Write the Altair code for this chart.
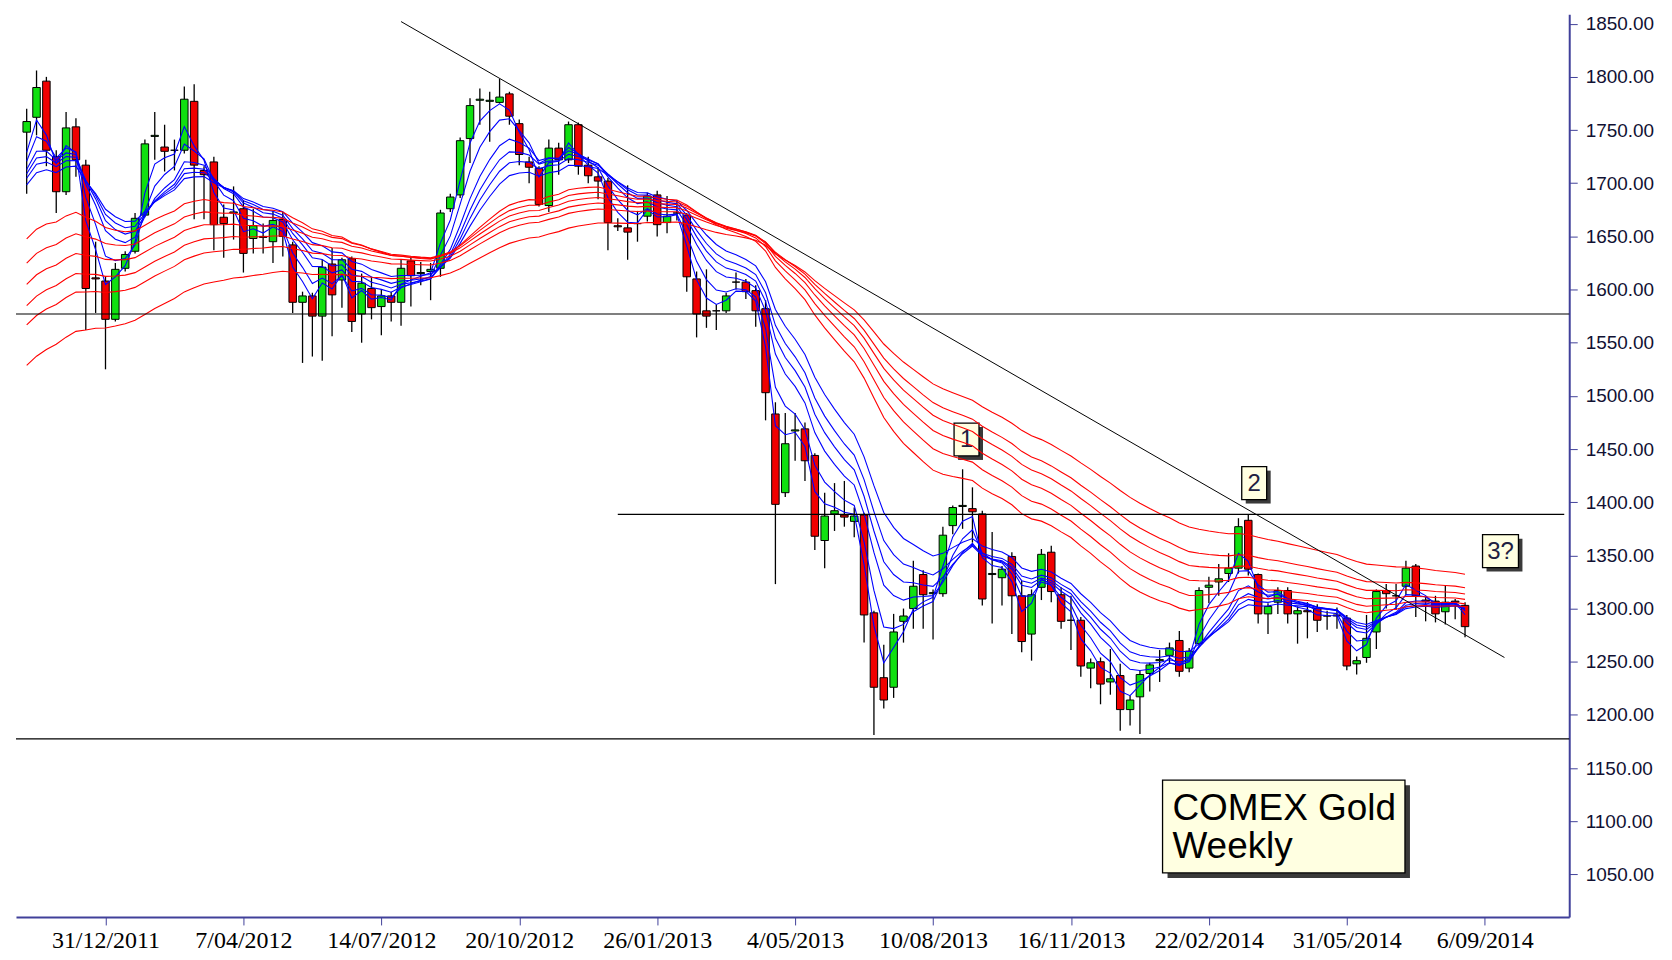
import altair as alt
import pandas as pd

# ---------------- data (weekly bars, week offsets relative to 31/12/2011) ----------------
first_week = -8
opens = [1748, 1762, 1796, 1725, 1692, 1753, 1717, 1611, 1608, 1572,
         1620, 1636, 1670, 1744, 1734, 1731, 1731, 1777, 1712, 1720,
         1668, 1672, 1676, 1648, 1650, 1645, 1666, 1642, 1588, 1594,
         1575, 1624, 1609, 1629, 1577, 1601, 1584, 1594, 1588, 1627,
         1615, 1617, 1620, 1676, 1689, 1742, 1778, 1777, 1776, 1784,
         1756, 1720, 1714, 1679, 1733, 1722, 1755, 1717, 1706, 1702,
         1660, 1658, 1662, 1669, 1689, 1663, 1672, 1670, 1610, 1580,
         1580, 1580, 1607, 1607, 1599, 1582, 1483, 1409, 1467, 1469,
         1444, 1364, 1389, 1388, 1382, 1388, 1296, 1235, 1226, 1288,
         1300, 1332, 1314, 1314, 1378, 1396, 1394, 1389, 1332, 1329,
         1349, 1312, 1276, 1320, 1353, 1313, 1289, 1289, 1244, 1250,
         1231, 1237, 1205, 1217, 1239, 1251, 1256, 1270, 1244, 1267,
         1320, 1325, 1333, 1338, 1383, 1332, 1295, 1306, 1317, 1295,
         1298, 1300, 1293, 1294, 1291, 1248, 1254, 1278, 1317, 1312,
         1321, 1340, 1308, 1307, 1297, 1307, 1303]
highs = [1770, 1806, 1800, 1731, 1767, 1761, 1722, 1645, 1612, 1625,
         1636, 1672, 1741, 1767, 1755, 1741, 1791, 1793, 1716, 1725,
         1680, 1697, 1684, 1676, 1662, 1674, 1673, 1645, 1598, 1597,
         1628, 1639, 1630, 1631, 1615, 1612, 1600, 1598, 1628, 1631,
         1626, 1625, 1675, 1690, 1743, 1780, 1789, 1786, 1798, 1786,
         1760, 1725, 1716, 1741, 1738, 1758, 1757, 1725, 1715, 1705,
         1667, 1698, 1674, 1691, 1693, 1688, 1684, 1672, 1617, 1619,
         1586, 1597, 1616, 1610, 1604, 1590, 1494, 1484, 1484, 1475,
         1446, 1409, 1418, 1420, 1395, 1390, 1298, 1266, 1295, 1300,
         1345, 1336, 1318, 1377, 1397, 1431, 1414, 1392, 1372, 1340,
         1353, 1326, 1318, 1356, 1359, 1320, 1312, 1292, 1253, 1254,
         1262, 1248, 1218, 1242, 1249, 1261, 1268, 1279, 1263, 1320,
         1330, 1342, 1352, 1385, 1389, 1333, 1305, 1320, 1320, 1302,
         1306, 1304, 1298, 1301, 1294, 1255, 1294, 1318, 1323, 1323,
         1345, 1342, 1311, 1312, 1322, 1309, 1306]
lows = [1690, 1745, 1716, 1672, 1689, 1706, 1562, 1578, 1525, 1570,
        1617, 1634, 1668, 1722, 1711, 1712, 1728, 1666, 1666, 1637,
        1630, 1647, 1616, 1634, 1634, 1625, 1631, 1578, 1531, 1537,
        1533, 1556, 1583, 1560, 1550, 1572, 1557, 1570, 1566, 1584,
        1604, 1590, 1612, 1673, 1686, 1719, 1755, 1739, 1775, 1755,
        1717, 1700, 1678, 1673, 1708, 1719, 1708, 1700, 1685, 1637,
        1655, 1628, 1645, 1664, 1650, 1653, 1665, 1598, 1555, 1564,
        1562, 1578, 1600, 1591, 1565, 1477, 1323, 1405, 1439, 1420,
        1355, 1338, 1373, 1377, 1367, 1268, 1181, 1206, 1216, 1268,
        1281, 1281, 1271, 1311, 1370, 1375, 1362, 1303, 1286, 1303,
        1276, 1259, 1251, 1308, 1306, 1281, 1261, 1236, 1225, 1210,
        1219, 1185, 1190, 1182, 1222, 1231, 1248, 1236, 1240, 1265,
        1305, 1312, 1325, 1333, 1331, 1286, 1276, 1295, 1286, 1267,
        1272, 1278, 1280, 1281, 1242, 1238, 1249, 1262, 1300, 1299,
        1313, 1292, 1288, 1287, 1285, 1290, 1273]
closes = [1758, 1790, 1731, 1692, 1752, 1722, 1601, 1610, 1572, 1619,
          1633, 1667, 1737, 1745, 1730, 1731, 1779, 1717, 1708, 1661,
          1662, 1673, 1634, 1660, 1649, 1665, 1650, 1588, 1594, 1575,
          1621, 1595, 1628, 1570, 1606, 1583, 1594, 1588, 1620, 1613,
          1616, 1619, 1672, 1687, 1740, 1773, 1779, 1778, 1781, 1763,
          1727, 1715, 1680, 1733, 1722, 1755, 1716, 1707, 1702, 1663,
          1659, 1654, 1662, 1688, 1661, 1669, 1672, 1612, 1577, 1575,
          1580, 1594, 1607, 1598, 1580, 1503, 1398, 1455, 1468, 1439,
          1368, 1387, 1392, 1386, 1387, 1294, 1226, 1214, 1278, 1293,
          1321, 1313, 1315, 1369, 1395, 1397, 1391, 1309, 1333, 1337,
          1312, 1269, 1313, 1351, 1316, 1288, 1289, 1246, 1249, 1229,
          1234, 1205, 1214, 1238, 1247, 1252, 1263, 1241, 1260, 1317,
          1322, 1328, 1338, 1377, 1337, 1295, 1302, 1317, 1295, 1298,
          1297, 1289, 1293, 1293, 1246, 1251, 1272, 1316, 1314, 1312,
          1338, 1312, 1307, 1295, 1306, 1306, 1283]

# Guppy multiple moving averages (exponential), seeded with the values read at the left edge
short_periods = [3, 5, 8, 10, 12, 15]
short_seeds = [1700, 1702, 1700, 1698, 1695, 1690]
long_periods = [30, 35, 40, 45, 50, 60]
long_seeds = [1640, 1617, 1597, 1577, 1559, 1521]

# axes
x_tick_weeks = [0, 14, 28, 42, 56, 70, 84, 98, 112, 126, 140]
y_ticks = list(range(1050, 1851, 50))
x_domain_weeks = [-8.58, 148.07]
y_domain = [1010, 1859]

# horizontal support / resistance lines
full_lines = [1577, 1177.5]
part_line_price = [1388.5]
part_line_weeks = [52, 148.07]

# falling trend line
trend_weeks = [30, 142]
trend_prices = [1852, 1254]

# label boxes
box_labels = ["1", "2", "3?"]
box_weeks = [87.4, 116.6, 141.6]
box_prices = [1459, 1418, 1354]
box_sizes = [(25, 33), (25, 33), (36, 33)]

note_text = "COMEX Gold\nWeekly"
note_week_center = 119.6
note_price_center = 1095
note_week_text = 108.3
note_price_text = 1101

# ---------------- helpers ----------------
BASE = pd.Timestamp("2011-12-31")


def wdate(w):
    return BASE + pd.Timedelta(days=7 * w)


def iso(w):
    return wdate(w).strftime("%Y-%m-%dT%H:%M:%S")


def ms(w):
    return int((wdate(w) - pd.Timestamp("1970-01-01")).total_seconds() * 1000)


weeks = list(range(first_week, first_week + len(closes)))
df = pd.DataFrame({
    "date": [iso(w) for w in weeks],
    "open": opens, "high": highs, "low": lows, "close": closes,
})


def ema(vals, n, seed):
    a = 2.0 / (n + 1)
    out, prev = [], seed
    for v in vals:
        prev = a * v + (1 - a) * prev
        out.append(prev)
    return out


rows = []
for grp, periods, seeds in (("short", short_periods, short_seeds), ("long", long_periods, long_seeds)):
    for n, s in zip(periods, seeds):
        for w, v in zip(weeks, ema(closes, n, s)):
            rows.append({"date": iso(w), "value": v, "series": f"{grp}{n}", "group": grp})
ma = pd.DataFrame(rows)

xs = alt.Scale(type="utc", domain=[ms(x_domain_weeks[0]), ms(x_domain_weeks[1])])
ys = alt.Scale(domain=y_domain, nice=False, zero=False)
AXIS_COL = "#40409A"

x_axis = alt.Axis(values=[ms(w) for w in x_tick_weeks],
                  labelExpr="utcFormat(datum.value, '%-d/%m/%Y')",
                  grid=False, domainColor=AXIS_COL, domainWidth=2, tickColor=AXIS_COL, tickWidth=1,
                  tickSize=8, labelFont="Liberation Sans Narrow", labelFontSize=24, labelColor="#000000",
                  labelPadding=4, labelOverlap=False, labelFlush=False, title=None)
y_axis = alt.Axis(orient="right", values=y_ticks, format=".2f", grid=False, domainColor=AXIS_COL,
                  domainWidth=2, tickColor=AXIS_COL, tickWidth=1, tickSize=8,
                  labelFont="Liberation Sans", labelFontSize=19, labelColor="#111133",
                  labelPadding=8, labelOverlap=False, labelFlush=False, title=None)


def X(field="date"):
    return alt.X(f"{field}:T", scale=xs, title=None)


def Y(field):
    return alt.Y(f"{field}:Q", scale=ys, title=None)


base = alt.Chart(df)

wicks = base.mark_rule(color="black", strokeWidth=1.3).encode(
    x=alt.X("date:T", scale=xs, axis=x_axis, title=None),
    y=alt.Y("low:Q", scale=ys, axis=y_axis, title=None),
    y2="high:Q",
)
bodies = base.mark_bar(width=7.5, stroke="black", strokeWidth=1).encode(
    x=X(), y=Y("open"), y2="close:Q",
    color=alt.condition("datum.close >= datum.open", alt.value("#10E010"), alt.value("#F00000")),
)

lines = alt.Chart(ma).mark_line(strokeWidth=1.1, clip=True).encode(
    x=X(), y=Y("value"), detail="series:N",
    color=alt.Color("group:N", scale=alt.Scale(domain=["short", "long"], range=["#0000FF", "#FF0000"]),
                    legend=None),
)

hl = alt.Chart(pd.DataFrame({"p": full_lines})).mark_rule(color="black", strokeWidth=1.2).encode(y=Y("p"))
pl = alt.Chart(pd.DataFrame({"p": part_line_price, "d1": [iso(part_line_weeks[0])],
                             "d2": [iso(part_line_weeks[1])]})).mark_rule(color="black", strokeWidth=1.2).encode(
    x=X("d1"), x2="d2:T", y=Y("p"))
tl = alt.Chart(pd.DataFrame({"d": [iso(w) for w in trend_weeks], "p": trend_prices})).mark_line(
    color="black", strokeWidth=1, clip=True).encode(x=X("d"), y=Y("p"))

layers = [wicks, bodies]

ann_layers = []
for lab, w, p, (bw, bh) in zip(box_labels, box_weeks, box_prices, box_sizes):
    m = max(bw, bh)
    hw, hh = bw / m, bh / m
    path = f"M{-hw},{-hh}L{hw},{-hh}L{hw},{hh}L{-hw},{hh}Z"
    d = alt.Chart(pd.DataFrame({"d": [iso(w)], "p": [p], "t": [lab]}))
    ann_layers.append(d.mark_point(shape=path, size=m * m, filled=True, fill="#3A3A3A", opacity=1,
                                   strokeOpacity=0, xOffset=4, yOffset=4).encode(x=X("d"), y=Y("p")))
    ann_layers.append(d.mark_point(shape=path, size=m * m, filled=True, fill="#FFFFE1", stroke="black",
                                   strokeWidth=1.3, opacity=1).encode(x=X("d"), y=Y("p")))
    ann_layers.append(d.mark_text(font="Liberation Sans", fontSize=24, color="#202040",
                                  baseline="middle", align="center", dy=1).encode(
        x=X("d"), y=Y("p"), text="t:N"))

nw, nh = 243, 93
m = max(nw, nh)
npath = f"M-1,{-nh / m}L1,{-nh / m}L1,{nh / m}L-1,{nh / m}Z"
nd = alt.Chart(pd.DataFrame({"d": [iso(note_week_center)], "p": [note_price_center]}))
note_shadow = nd.mark_point(shape=npath, size=m * m, filled=True, fill="#3A3A3A", opacity=1,
                            strokeOpacity=0, xOffset=5, yOffset=5).encode(x=X("d"), y=Y("p"))
note_box = nd.mark_point(shape=npath, size=m * m, filled=True, fill="#FFFFE1", stroke="black",
                         strokeWidth=1.3, opacity=1).encode(x=X("d"), y=Y("p"))
note_txt = alt.Chart(pd.DataFrame({"d": [iso(note_week_text)], "p": [note_price_text], "t": [note_text]})).mark_text(
    font="Liberation Sans", fontSize=37, color="#000000", align="left", baseline="alphabetic",
    lineBreak="\n", lineHeight=38).encode(x=X("d"), y=Y("p"), text="t:N")

chart = alt.layer(
    *layers, *ann_layers, lines, hl, pl, tl, note_shadow, note_box, note_txt
).properties(
    width=1557, height=905,
    autosize=alt.AutoSizeParams(type="none"),
    padding={"left": 8, "top": 5, "right": 95, "bottom": 40},
    background="white",
).configure_view(stroke=None)

chart.save("out.html", embed_options={"renderer": "svg", "actions": False})
